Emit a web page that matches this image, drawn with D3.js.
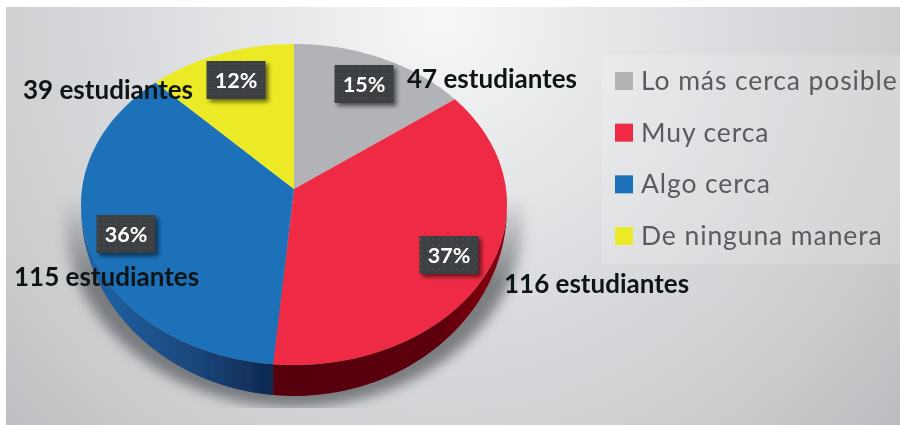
<!DOCTYPE html>
<html>
<head>
<meta charset="utf-8">
<script src="https://d3js.org/d3.v7.min.js"></script>
<style>
  html, body { margin: 0; padding: 0; background: #fff; }
  svg { display: block; }
  text { font-family: Lato, "Open Sans", sans-serif; }
</style>
</head>
<body>
<script>
var categories = ["Lo más cerca posible", "Muy cerca", "Algo cerca", "De ninguna manera"];
var students = [47, 116, 115, 39];
var percents = ["15%", "37%", "36%", "12%"];
var countLabels = ["47 estudiantes", "116 estudiantes", "115 estudiantes", "39 estudiantes"];
var colors = ["#b1b3b6", "#ee2c44", "#1c71b9", "#ecea25"];

var width = 900, height = 425;

// hand placed like the original labels
var pctCenter = [[364, 84], [449, 255], [126, 234], [236, 80]];
var countStart = [[407, 88], [504, 293], [14, 286], [23, 99]];

// pie is seen in perspective: apex sits above the centre of the outline
var cx = 294, cy = 189, rxPie = 212, ryPie = 159, tilt = 0.0966, wallStretch = 1.176;

var svg = d3.select("body").append("svg")
    .attr("width", width)
    .attr("height", height);

var defs = svg.append("defs");

var bg = defs.append("radialGradient")
    .attr("id", "bg")
    .attr("gradientUnits", "userSpaceOnUse")
    .attr("cx", 440).attr("cy", 20).attr("r", 620);
bg.append("stop").attr("offset", "0").attr("stop-color", "#f6f7f7");
bg.append("stop").attr("offset", "0.45").attr("stop-color", "#dcdde0");
bg.append("stop").attr("offset", "0.8").attr("stop-color", "#c9cbcd");
bg.append("stop").attr("offset", "1").attr("stop-color", "#b9bbbe");

var blueWall = defs.append("linearGradient")
    .attr("id", "wall2")
    .attr("gradientUnits", "userSpaceOnUse")
    .attr("x1", 95).attr("x2", 275).attr("y1", 0).attr("y2", 0);
blueWall.append("stop").attr("offset", "0").attr("stop-color", "#1e62a4");
blueWall.append("stop").attr("offset", "0.5").attr("stop-color", "#1c4a80");
blueWall.append("stop").attr("offset", "1").attr("stop-color", "#0e2750");

var redWall = defs.append("linearGradient")
    .attr("id", "wall1")
    .attr("gradientUnits", "userSpaceOnUse")
    .attr("x1", 275).attr("x2", 505).attr("y1", 0).attr("y2", 0);
redWall.append("stop").attr("offset", "0").attr("stop-color", "#560008");
redWall.append("stop").attr("offset", "0.7").attr("stop-color", "#5c0009");
redWall.append("stop").attr("offset", "1").attr("stop-color", "#8a0012");

defs.append("filter").attr("id", "soft")
    .attr("x", "-20%").attr("y", "-20%").attr("width", "140%").attr("height", "140%")
  .append("feGaussianBlur").attr("stdDeviation", 0.6);

defs.append("filter").attr("id", "pieShadow")
    .attr("x", "-20%").attr("y", "-20%").attr("width", "140%").attr("height", "140%")
  .append("feGaussianBlur").attr("stdDeviation", 6);

defs.append("filter").attr("id", "boxShadow")
    .attr("x", "-30%").attr("y", "-30%").attr("width", "160%").attr("height", "160%")
  .append("feGaussianBlur").attr("stdDeviation", 2.2);

var dots = defs.append("pattern").attr("id", "dots")
    .attr("patternUnits", "userSpaceOnUse").attr("width", 6).attr("height", 6);
dots.append("rect").attr("width", 6).attr("height", 6).attr("fill", "#3d3f43");
dots.append("circle").attr("cx", 2).attr("cy", 2).attr("r", 0.7).attr("fill", "#55575b");

// shadow fades out going up the sides of the pie
var shadowFade = defs.append("linearGradient")
    .attr("id", "shadowFade")
    .attr("gradientUnits", "userSpaceOnUse")
    .attr("x1", 0).attr("x2", 0).attr("y1", 195).attr("y2", 285);
shadowFade.append("stop").attr("offset", "0").attr("stop-color", "#000");
shadowFade.append("stop").attr("offset", "1").attr("stop-color", "#fff");

defs.append("mask").attr("id", "shadowMask")
    .attr("maskUnits", "userSpaceOnUse")
    .attr("x", 0).attr("y", 0).attr("width", width).attr("height", 408)
  .append("rect")
    .attr("width", width).attr("height", 408)
    .attr("fill", "url(#shadowFade)");

svg.append("rect")
    .attr("x", 6).attr("y", 7)
    .attr("width", width - 6).attr("height", height - 7)
    .attr("fill", "url(#bg)");

// legend panel
svg.append("rect")
    .attr("x", 602).attr("y", 55)
    .attr("width", 298).attr("height", 209)
    .attr("fill", "#ffffff").attr("opacity", 0.16);

var pie = d3.pie().sort(null).value(function(d) { return d; });
var arcs = pie(students);

function rimPoint(a, stretch) {
  var d = 1 + tilt * Math.cos(a);
  var yy = ryPie * Math.cos(a) / d;
  return [cx + rxPie * Math.sin(a) / d, cy - (yy < 0 ? yy * stretch : yy)];
}

function rimAngles(a0, a1) {
  return d3.range(0, 61).map(function(i) { return a0 + (a1 - a0) * i / 60; });
}

var line = d3.line();

function slicePath(d) {
  var rim = rimAngles(d.startAngle, d.endAngle).map(function(a) { return rimPoint(a, 1); });
  return line([[cx, cy]].concat(rim)) + "Z";
}

function wallPath(d) {
  var a0 = Math.max(d.startAngle, Math.PI / 2), a1 = Math.min(d.endAngle, Math.PI * 1.5);
  if (a1 <= a0) return null;
  var upper = rimAngles(a0, a1).map(function(a) { return rimPoint(a, 1); });
  var lower = rimAngles(a1, a0).map(function(a) { return rimPoint(a, wallStretch); });
  return line(upper.concat(lower)) + "Z";
}

var outline = d3.range(0, 121).map(function(i) { return rimPoint(i / 120 * 2 * Math.PI, wallStretch); });

var art = svg.append("g").attr("filter", "url(#soft)");

art.append("g")
    .attr("mask", "url(#shadowMask)")
  .append("path")
    .attr("d", line(outline) + "Z")
    .attr("transform", "translate(" + cx + "," + (cy + 11) + ") scale(1.075,1.0) translate(" + (-cx) + "," + (-cy) + ")")
    .attr("fill", "#63666a")
    .attr("opacity", 0.8)
    .attr("filter", "url(#pieShadow)");

art.selectAll("path.wall")
    .data(arcs)
  .enter().append("path")
    .attr("class", "wall")
    .attr("d", wallPath)
    .attr("fill", function(d, i) { return "url(#wall" + i + ")"; });

art.selectAll("path.slice")
    .data(arcs)
  .enter().append("path")
    .attr("class", "slice")
    .attr("d", slicePath)
    .attr("fill", function(d, i) { return colors[i]; });

// percent boxes
var boxW = 59, boxH = 38;
var pct = art.selectAll("g.pct")
    .data(percents)
  .enter().append("g")
    .attr("class", "pct")
    .attr("transform", function(d, i) { return "translate(" + pctCenter[i] + ")"; });

pct.append("rect")
    .attr("x", -boxW / 2 + 3).attr("y", -boxH / 2 + 3)
    .attr("width", boxW).attr("height", boxH)
    .attr("fill", "#000").attr("opacity", 0.55)
    .attr("filter", "url(#boxShadow)");

pct.append("rect")
    .attr("x", -boxW / 2).attr("y", -boxH / 2)
    .attr("width", boxW).attr("height", boxH)
    .attr("fill", "url(#dots)");

pct.append("text")
    .attr("text-anchor", "middle")
    .attr("y", 8)
    .attr("fill", "#fff")
    .attr("font-size", 21.5)
    .attr("font-weight", 700)
    .text(function(d) { return d; });

// student counts
art.selectAll("text.count")
    .data(countLabels)
  .enter().append("text")
    .attr("class", "count")
    .attr("x", function(d, i) { return countStart[i][0]; })
    .attr("y", function(d, i) { return countStart[i][1]; })
    .attr("fill", "#111214")
    .attr("font-size", 26)
    .attr("font-weight", 700)
    .text(function(d) { return d; });

// legend
var legendY = d3.scalePoint()
    .domain(categories)
    .range([81, 236]);

var legend = art.selectAll("g.legend")
    .data(categories)
  .enter().append("g")
    .attr("class", "legend")
    .attr("transform", function(d) { return "translate(615," + legendY(d) + ")"; });

legend.append("rect")
    .attr("y", -9)
    .attr("width", 18).attr("height", 18)
    .attr("fill", function(d, i) { return colors[i]; });

legend.append("text")
    .attr("x", 26)
    .attr("y", 9)
    .attr("fill", "#595b60")
    .attr("font-size", 26.5)
    .attr("letter-spacing", 0.9)
    .text(function(d) { return d; });
</script>
</body>
</html>
